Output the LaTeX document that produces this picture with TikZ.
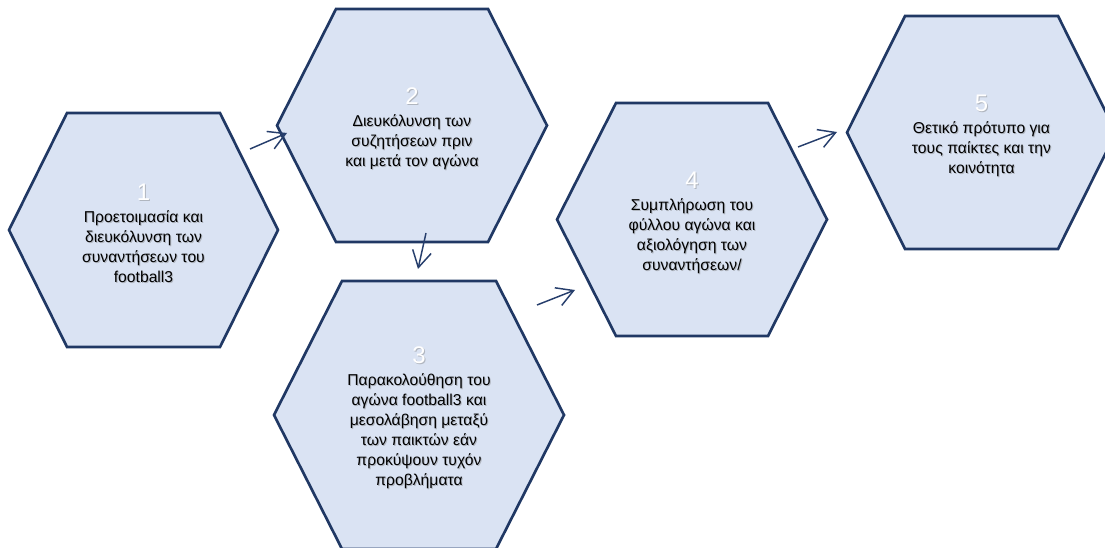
\documentclass[tikz,border=0pt]{standalone}
\usepackage{fontspec}
\setmainfont{Liberation Sans}
\usetikzlibrary{arrows.meta}

\definecolor{hexfill}{RGB}{218,227,243}
\definecolor{hexline}{RGB}{32,56,100}
\definecolor{flowline}{RGB}{38,62,108}

\tikzset{
  hexshape/.style={draw=hexline, fill=hexfill, line width=2pt, line join=miter},
  celltext/.style={align=center, inner sep=0pt, text=black,
    font=\fontsize{11.8}{15}\selectfont},
  cellshadow/.style={celltext, text=black!55, opacity=0.4},
  flow/.style={draw=flowline, line width=1.1pt,
    -{Straight Barb[length=12.4pt, width=14.2pt]}},
}

% step number shown above each caption
\newcommand{\cellnum}[2]{{\color{#1}\fontsize{18}{20}\selectfont #2}\\[1.5pt]}

% #1 name, #2 cx, #3 cy, #4 half width, #5 half height, #6 inset, #7 number, #8 caption
\newcommand{\hexcell}[8]{%
  \draw[hexshape] ({#2-#4},{#3}) -- ({#2-#4+#6},{#3-#5}) -- ({#2+#4-#6},{#3-#5})
    -- ({#2+#4},{#3}) -- ({#2+#4-#6},{#3+#5}) -- ({#2-#4+#6},{#3+#5}) -- cycle;
  \node[cellshadow] at ({#2+1},{#3+4}) {\cellnum{black!55}{#7}#8};
  \node[celltext] (#1) at ({#2},{#3+3}) {\cellnum{white}{#7}#8};
}

\begin{document}
\begin{tikzpicture}[x=0.75pt, y=-0.75pt]
  \useasboundingbox (0,0) rectangle (1105,548);
  \clip (0,0) rectangle (1105,548);

  \hexcell{h1}{143.5}{230}{134.5}{117}{58}{1}{Προετοιμασία και\\διευκόλυνση των\\συναντήσεων του\\football3}
  \hexcell{h2}{412}{125.5}{135}{116.5}{59}{2}{Διευκόλυνση των\\συζητήσεων πριν\\και μετά τον αγώνα}
  \hexcell{h3}{419}{415}{145}{134}{68}{3}{Παρακολούθηση του\\αγώνα football3 και\\μεσολάβηση μεταξύ\\των παικτών εάν\\προκύψουν τυχόν\\προβλήματα}
  \hexcell{h4}{692}{219.5}{135}{116.5}{59}{4}{Συμπλήρωση του\\φύλλου αγώνα και\\αξιολόγηση των\\συναντήσεων/}
  \hexcell{h5}{981.5}{132.5}{134.5}{116.5}{58}{5}{Θετικό πρότυπο για\\τους παίκτες και την\\κοινότητα}

  % arrow ends between neighbouring steps
  \coordinate (a12s) at (250,149);  \coordinate (a12e) at (287,133);
  \coordinate (a23s) at (426,233);  \coordinate (a23e) at (418,269);
  \coordinate (a34s) at (537,305);  \coordinate (a34e) at (575,290);
  \coordinate (a45s) at (798,147);  \coordinate (a45e) at (837,132);

  \draw[flow] (a12s) -- (a12e);
  \draw[flow] (a23s) -- (a23e);
  \draw[flow] (a34s) -- (a34e);
  \draw[flow] (a45s) -- (a45e);
\end{tikzpicture}
\end{document}
